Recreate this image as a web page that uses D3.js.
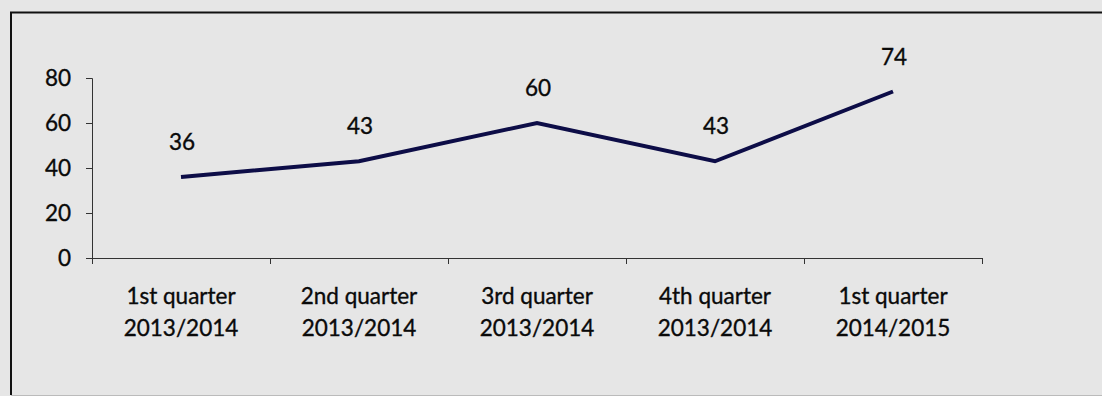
<!DOCTYPE html>
<html>
<head>
<meta charset="utf-8">
<script src="https://cdn.jsdelivr.net/npm/d3@7"></script>
<style>
  html, body { margin: 0; padding: 0; background: #e6e6e6; }
  svg { display: block; }
  text { font-family: Lato, "Open Sans", sans-serif; fill: #0a0a0a; stroke: #0a0a0a; stroke-width: 0.35px; }
</style>
</head>
<body>
<svg id="chart" width="1102" height="396"></svg>
<script>
// Quarterly values
const categories = [
  ["1st quarter", "2013/2014"],
  ["2nd quarter", "2013/2014"],
  ["3rd quarter", "2013/2014"],
  ["4th quarter", "2013/2014"],
  ["1st quarter", "2014/2015"]
];
const values = [36, 43, 60, 43, 74];
const yTicks = [0, 20, 40, 60, 80];

(function draw() {
  const svg = d3.select("#chart");
  const W = 1102, H = 396;
  const fontSize = 22.5;

  // Frame
  svg.append("rect").attr("x", 0).attr("y", 0).attr("width", W).attr("height", H).attr("fill", "#e6e6e6");
  svg.append("path")
    .attr("d", `M11,${H - 1} L11,12.5 L${W + 2},12.5`)
    .attr("fill", "none").attr("stroke", "#111").attr("stroke-width", 2);
  svg.append("line").attr("x1", 11).attr("x2", W).attr("y1", H - 0.5).attr("y2", H - 0.5)
    .attr("stroke", "#bbb").attr("stroke-width", 1);

  const plotLeft = 92, plotRight = 982, plotTop = 78, plotBottom = 258;

  const x = d3.scaleBand().domain(d3.range(categories.length)).range([plotLeft, plotRight]);
  const y = d3.scaleLinear().domain([0, 80]).range([plotBottom, plotTop]);

  // Y axis
  const yAxis = svg.append("g").attr("transform", `translate(${plotLeft},0)`)
    .call(d3.axisLeft(y).tickValues(yTicks).tickSize(6).tickPadding(15));
  yAxis.select(".domain").attr("stroke", "#333").attr("stroke-width", 1);
  yAxis.selectAll(".tick line").attr("stroke", "#333");
  yAxis.selectAll("text").attr("font-size", fontSize).attr("fill", "#0a0a0a")
    .style("font-family", "Lato, 'Open Sans', sans-serif");

  // X axis with ticks at category boundaries
  const xg = svg.append("g").attr("transform", `translate(0,${plotBottom})`);
  xg.append("line").attr("x1", plotLeft - 6).attr("x2", plotRight).attr("y1", 0.5).attr("y2", 0.5)
    .attr("stroke", "#333");
  const bounds = d3.range(categories.length + 1)
    .map(i => i < categories.length ? x(i) : x(i - 1) + x.bandwidth());
  xg.selectAll("line.b").data(bounds).join("line").attr("class", "b")
    .attr("x1", d => d + 0.5).attr("x2", d => d + 0.5).attr("y1", 0).attr("y2", 6)
    .attr("stroke", "#333");

  // Category labels (two lines)
  const lab = svg.append("g").selectAll("text").data(categories).join("text")
    .attr("text-anchor", "middle").attr("font-size", fontSize)
    .attr("transform", (d, i) => `translate(${x(i) + x.bandwidth() / 2},0)`);
  lab.append("tspan").attr("x", 0).attr("y", 304).text(d => d[0]);
  lab.append("tspan").attr("x", 0).attr("y", 336).text(d => d[1]);

  // Line
  const line = d3.line().x((d, i) => x(i) + x.bandwidth() / 2).y(d => y(d));
  svg.append("path").datum(values).attr("d", line)
    .attr("fill", "none").attr("stroke", "#0d0d47").attr("stroke-width", 4)
    .attr("stroke-linejoin", "miter").attr("stroke-linecap", "butt");

  // Value labels
  svg.append("g").selectAll("text").data(values).join("text")
    .attr("x", (d, i) => x(i) + x.bandwidth() / 2 + 1)
    .attr("y", d => y(d) - 27)
    .attr("text-anchor", "middle").attr("font-size", fontSize)
    .text(d => d);
})();
</script>
</body>
</html>
